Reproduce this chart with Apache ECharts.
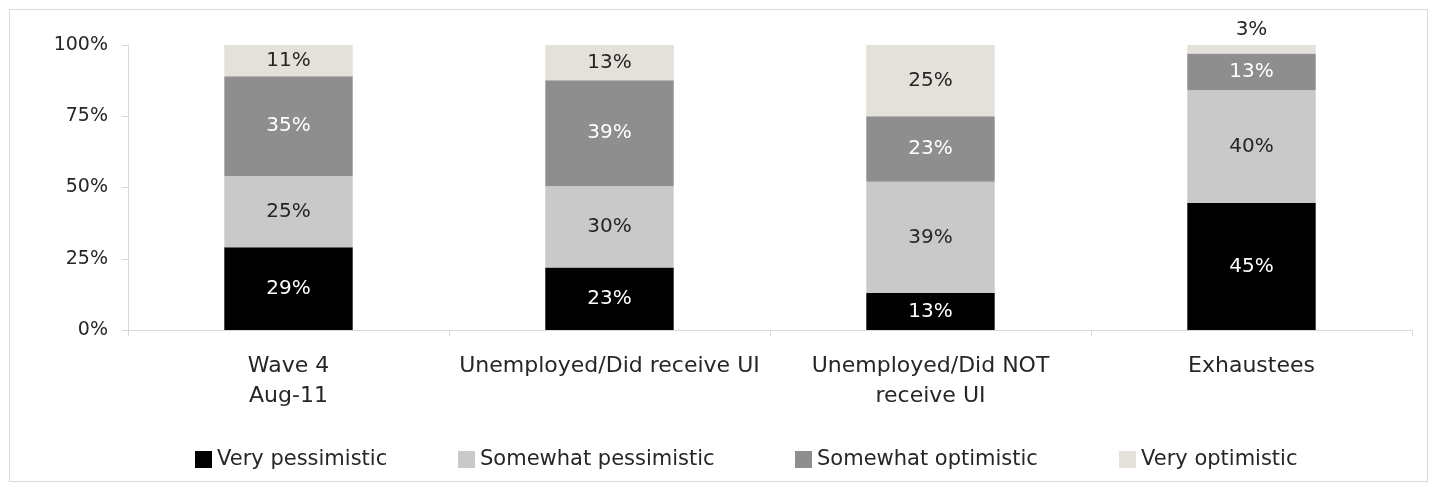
<!DOCTYPE html>
<html>
<head>
<meta charset="utf-8">
<script src="https://cdn.jsdelivr.net/npm/echarts@6/dist/echarts.min.js"></script>
<style>
  html, body { margin: 0; padding: 0; background: #fff; }
  #chart { width: 1432px; height: 487px; }
</style>
</head>
<body>
<div id="chart"></div>
<script>
// Survey groups and the share of respondents in each outlook category (%)
const categories = ['Wave 4\nAug-11', 'Unemployed/Did receive UI', 'Unemployed/Did NOT\nreceive UI', 'Exhaustees'];
const seriesNames = ['Very pessimistic', 'Somewhat pessimistic', 'Somewhat optimistic', 'Very optimistic'];
const veryPessimistic = [29, 23, 13, 45];
const somewhatPessimistic = [25, 30, 39, 40];
const somewhatOptimistic = [35, 39, 23, 13];
const veryOptimistic = [11, 13, 25, 3];
const yTicks = [0, 25, 50, 75, 100];

const values = [veryPessimistic, somewhatPessimistic, somewhatOptimistic, veryOptimistic];
const colors = ['#000000', '#c9c9c9', '#8e8e8e', '#e4e0da'];
const labelColors = ['#ffffff', '#262626', '#ffffff', '#262626'];
const FONT = 'DejaVu Sans';

// 100% stacked: each column is scaled so its segments fill the full height
const totals = categories.map((_, i) => values.reduce((s, arr) => s + arr[i], 0));

const series = values.map((arr, si) => ({
  name: seriesNames[si],
  type: 'bar',
  stack: 'total',
  barWidth: '40%',
  itemStyle: { color: colors[si] },
  emphasis: { disabled: true },
  label: {
    show: true,
    position: 'inside',
    color: labelColors[si],
    fontFamily: FONT,
    fontSize: 20,
    formatter: p => p.data.raw + '%'
  },
  data: arr.map((v, i) => {
    const item = { value: v / totals[i] * 100, raw: v };
    // a very thin top segment carries its label above the column
    if (v / totals[i] < 0.06) {
      item.label = { position: 'top', distance: 5, color: '#262626' };
    }
    return item;
  })
}));

const legendLefts = [195, 458, 795, 1119];

const chart = echarts.init(document.getElementById('chart'), null, { renderer: 'canvas' });
chart.setOption({
  animation: false,
  backgroundColor: '#ffffff',
  graphic: [{
    type: 'rect',
    shape: { x: 9.5, y: 9.5, width: 1418, height: 472 },
    style: { fill: 'none', stroke: '#d9d9d9', lineWidth: 1 },
    silent: true
  }],
  grid: { left: 128, right: 20, top: 45, bottom: 157 },
  legend: seriesNames.map((name, i) => ({
    data: [name],
    left: legendLefts[i],
    top: 449,
    padding: 0,
    itemWidth: 17,
    itemHeight: 17,
    itemGap: 0,
    icon: 'rect',
    selectedMode: false,
    textStyle: { fontFamily: FONT, fontSize: 21, color: '#262626' }
  })),
  xAxis: {
    type: 'category',
    data: categories,
    axisLine: { lineStyle: { color: '#d9d9d9', width: 1 } },
    axisTick: { show: true, length: 6, lineStyle: { color: '#d9d9d9' } },
    axisLabel: {
      fontFamily: FONT,
      fontSize: 22,
      color: '#262626',
      lineHeight: 30,
      margin: 21,
      interval: 0
    }
  },
  yAxis: {
    type: 'value',
    min: yTicks[0],
    max: yTicks[yTicks.length - 1],
    interval: 25,
    axisLine: { show: true, lineStyle: { color: '#d9d9d9', width: 1 } },
    axisTick: { show: true, length: 6, lineStyle: { color: '#d9d9d9' } },
    splitLine: { show: false },
    axisLabel: {
      fontFamily: FONT,
      fontSize: 19,
      color: '#262626',
      margin: 20,
      formatter: v => v + '%'
    }
  },
  series: series
});
</script>
</body>
</html>
